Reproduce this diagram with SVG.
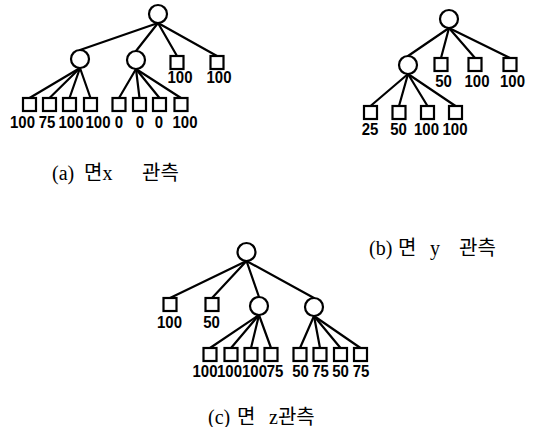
<svg xmlns="http://www.w3.org/2000/svg" width="536" height="427" viewBox="0 0 536 427">
  <style>
    .edge { stroke: #000; stroke-width: 2.2; fill: none; stroke-linecap: round; }
    .inner { fill: #fff; stroke: #000; stroke-width: 2.2; }
    .leaf { fill: #fff; stroke: #000; stroke-width: 2.2; }
    .val { font-family: "Liberation Sans", Arial, sans-serif; font-weight: bold; font-size: 15px; text-anchor: middle; fill: #000; }
    .cap { font-family: "Liberation Serif", "Noto Sans CJK KR", serif; font-size: 20px; fill: #000; }
  </style>

  <!-- connectors -->
  <g id="connectors" class="edge">
    <!-- tree a -->
    <line x1="158" y1="23" x2="80" y2="50"/>
    <line x1="158" y1="23" x2="136" y2="51"/>
    <line x1="158" y1="23" x2="177" y2="56"/>
    <line x1="158" y1="23" x2="217" y2="56"/>
    <line x1="80" y1="68" x2="29.5" y2="98"/>
    <line x1="80" y1="68" x2="49.5" y2="98"/>
    <line x1="80" y1="68" x2="69.5" y2="98"/>
    <line x1="80" y1="68" x2="90.5" y2="98"/>
    <line x1="136" y1="69" x2="119" y2="98"/>
    <line x1="136" y1="69" x2="139.5" y2="98"/>
    <line x1="136" y1="69" x2="159.5" y2="98"/>
    <line x1="136" y1="69" x2="181" y2="98"/>
    <!-- tree b -->
    <line x1="449" y1="28" x2="408" y2="56"/>
    <line x1="449" y1="28" x2="441" y2="58"/>
    <line x1="449" y1="28" x2="475" y2="58"/>
    <line x1="449" y1="28" x2="510" y2="58"/>
    <line x1="408" y1="74" x2="370.5" y2="106"/>
    <line x1="408" y1="74" x2="399" y2="106"/>
    <line x1="408" y1="74" x2="427.5" y2="106"/>
    <line x1="408" y1="74" x2="455.5" y2="106"/>
    <!-- tree c -->
    <line x1="246.5" y1="261" x2="170" y2="298"/>
    <line x1="246.5" y1="261" x2="212" y2="298"/>
    <line x1="246.5" y1="261" x2="259" y2="297"/>
    <line x1="246.5" y1="261" x2="314" y2="298"/>
    <line x1="259" y1="315" x2="210" y2="348"/>
    <line x1="259" y1="315" x2="231" y2="348"/>
    <line x1="259" y1="315" x2="251" y2="348"/>
    <line x1="259" y1="315" x2="271" y2="348"/>
    <line x1="314" y1="316" x2="300" y2="348"/>
    <line x1="314" y1="316" x2="320" y2="348"/>
    <line x1="314" y1="316" x2="340.5" y2="348"/>
    <line x1="314" y1="316" x2="360.5" y2="348"/>
  </g>

  <!-- tree a -->
  <g id="a-root"><circle class="inner" cx="158" cy="14" r="9"/></g>
  <g id="a-n1"><circle class="inner" cx="80" cy="59" r="9"/></g>
  <g id="a-n2"><circle class="inner" cx="136" cy="60" r="9"/></g>
  <g id="a-l1"><rect class="leaf" x="170.5" y="56" width="13" height="13"/><text class="val" transform="translate(180,83) scale(1,1.15)">100</text></g>
  <g id="a-l2"><rect class="leaf" x="210.5" y="56" width="13" height="13"/><text class="val" transform="translate(219,83) scale(1,1.15)">100</text></g>
  <g id="a-l3"><rect class="leaf" x="23" y="98" width="13" height="13"/><text class="val" transform="translate(22.5,128) scale(1,1.15)">100</text></g>
  <g id="a-l4"><rect class="leaf" x="43" y="98" width="13" height="13"/><text class="val" transform="translate(47,128) scale(1,1.15)">75</text></g>
  <g id="a-l5"><rect class="leaf" x="63" y="98" width="13" height="13"/><text class="val" transform="translate(71,128) scale(1,1.15)">100</text></g>
  <g id="a-l6"><rect class="leaf" x="84" y="98" width="13" height="13"/><text class="val" transform="translate(98,128) scale(1,1.15)">100</text></g>
  <g id="a-l7"><rect class="leaf" x="112.5" y="98" width="13" height="13"/><text class="val" transform="translate(119,128) scale(1,1.15)">0</text></g>
  <g id="a-l8"><rect class="leaf" x="133" y="98" width="13" height="13"/><text class="val" transform="translate(140,128) scale(1,1.15)">0</text></g>
  <g id="a-l9"><rect class="leaf" x="153" y="98" width="13" height="13"/><text class="val" transform="translate(159,128) scale(1,1.15)">0</text></g>
  <g id="a-l10"><rect class="leaf" x="174.5" y="98" width="13" height="13"/><text class="val" transform="translate(185,128) scale(1,1.15)">100</text></g>
  <g id="a-caption">
    <text class="cap" x="52" y="180">(a)</text>
    <text class="cap" x="84" y="180">면x</text>
    <text class="cap" x="142" y="180">관측</text>
  </g>

  <!-- tree b -->
  <g id="b-root"><circle class="inner" cx="449" cy="19" r="9"/></g>
  <g id="b-n1"><circle class="inner" cx="408" cy="65" r="9"/></g>
  <g id="b-l1"><rect class="leaf" x="434.5" y="58" width="13" height="13"/><text class="val" transform="translate(443.5,87) scale(1,1.15)">50</text></g>
  <g id="b-l2"><rect class="leaf" x="468.5" y="58" width="13" height="13"/><text class="val" transform="translate(477,87) scale(1,1.15)">100</text></g>
  <g id="b-l3"><rect class="leaf" x="503.5" y="58" width="13" height="13"/><text class="val" transform="translate(512.5,87) scale(1,1.15)">100</text></g>
  <g id="b-l4"><rect class="leaf" x="364" y="106" width="13" height="13"/><text class="val" transform="translate(370,135) scale(1,1.15)">25</text></g>
  <g id="b-l5"><rect class="leaf" x="392.5" y="106" width="13" height="13"/><text class="val" transform="translate(398.5,135) scale(1,1.15)">50</text></g>
  <g id="b-l6"><rect class="leaf" x="421" y="106" width="13" height="13"/><text class="val" transform="translate(426.5,135) scale(1,1.15)">100</text></g>
  <g id="b-l7"><rect class="leaf" x="449" y="106" width="13" height="13"/><text class="val" transform="translate(455,135) scale(1,1.15)">100</text></g>
  <g id="b-caption">
    <text class="cap" x="369" y="255">(b)</text>
    <text class="cap" x="398" y="255">면</text>
    <text class="cap" x="430" y="255">y</text>
    <text class="cap" x="459" y="255">관측</text>
  </g>

  <!-- tree c -->
  <g id="c-root"><circle class="inner" cx="246.5" cy="252" r="9"/></g>
  <g id="c-n1"><circle class="inner" cx="259" cy="306" r="9"/></g>
  <g id="c-n2"><circle class="inner" cx="314" cy="307" r="9"/></g>
  <g id="c-l1"><rect class="leaf" x="163.5" y="298" width="13" height="13"/><text class="val" transform="translate(169.5,328) scale(1,1.15)">100</text></g>
  <g id="c-l2"><rect class="leaf" x="205.5" y="298" width="13" height="13"/><text class="val" transform="translate(211.5,328) scale(1,1.15)">50</text></g>
  <g id="c-l3"><rect class="leaf" x="203.5" y="348" width="13" height="13"/><text class="val" transform="translate(205,377) scale(1,1.15)">100</text></g>
  <g id="c-l4"><rect class="leaf" x="224.5" y="348" width="13" height="13"/><text class="val" transform="translate(229.5,377) scale(1,1.15)">100</text></g>
  <g id="c-l5"><rect class="leaf" x="244.5" y="348" width="13" height="13"/><text class="val" transform="translate(254.5,377) scale(1,1.15)">100</text></g>
  <g id="c-l6"><rect class="leaf" x="264.5" y="348" width="13" height="13"/><text class="val" transform="translate(275,377) scale(1,1.15)">75</text></g>
  <g id="c-l7"><rect class="leaf" x="293.5" y="348" width="13" height="13"/><text class="val" transform="translate(300.5,377) scale(1,1.15)">50</text></g>
  <g id="c-l8"><rect class="leaf" x="313.5" y="348" width="13" height="13"/><text class="val" transform="translate(320.5,377) scale(1,1.15)">75</text></g>
  <g id="c-l9"><rect class="leaf" x="334" y="348" width="13" height="13"/><text class="val" transform="translate(340.5,377) scale(1,1.15)">50</text></g>
  <g id="c-l10"><rect class="leaf" x="354" y="348" width="13" height="13"/><text class="val" transform="translate(361,377) scale(1,1.15)">75</text></g>
  <g id="c-caption">
    <text class="cap" x="208" y="424">(c)</text>
    <text class="cap" x="237" y="424">면</text>
    <text class="cap" x="269" y="424">z관측</text>
  </g>
</svg>
